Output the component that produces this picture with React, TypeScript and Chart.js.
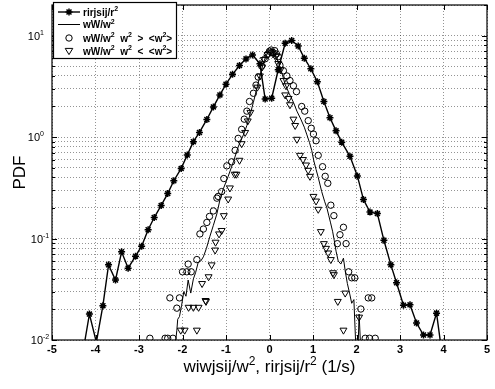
import { useEffect, useRef } from 'react';
import { Chart, registerables } from 'chart.js';

Chart.register(...registerables);

const FONT = "'Liberation Sans', Arial, Helvetica, sans-serif";

// axis ranges and tick labels
const X_MIN = -5;
const X_MAX = 5;
const Y_MIN = 0.01;
const Y_MAX = 20;
const xTicks = [-5, -4, -3, -2, -1, 0, 1, 2, 3, 4, 5];
const yDecades = [-2, -1, 0, 1];
const yMinorSteps = [2, 3, 4, 5, 6, 7, 8, 9];

// rirjsij/r^2  (stars joined by a line)
const rrX = [-4.25, -4.14, -3.98, -3.83, -3.70, -3.54, -3.40, -3.25, -3.08, -2.94, -2.79, -2.65, -2.49, -2.34, -2.20, -2.03, -1.89, -1.75, -1.61, -1.44, -1.29, -1.14, -1.00, -0.85, -0.69, -0.54, -0.39, -0.22, -0.10, 0.05, 0.20, 0.36, 0.51, 0.66, 0.80, 0.95, 1.10, 1.25, 1.39, 1.53, 1.66, 1.85, 2.02, 2.16, 2.31, 2.48, 2.63, 2.79, 2.92, 3.08, 3.23, 3.38, 3.54, 3.69, 3.84, 3.93];
const rrY = [0.0095, 0.018, 0.0095, 0.0218, 0.055, 0.039, 0.074, 0.051, 0.067, 0.084, 0.122, 0.161, 0.212, 0.277, 0.371, 0.491, 0.665, 0.90, 1.11, 1.49, 1.98, 2.60, 3.32, 4.15, 5.07, 5.89, 6.44, 5.27, 2.37, 2.41, 4.6, 8.4, 8.95, 7.9, 5.98, 4.71, 3.50, 2.24, 1.55, 1.15, 0.89, 0.645, 0.414, 0.242, 0.182, 0.176, 0.096, 0.055, 0.0366, 0.0220, 0.0222, 0.0147, 0.0112, 0.0112, 0.0184, 0.0095];

// wW/w^2  (solid line)
const wwX = [-2.16, -2.13, -2.11, -2.07, -2.02, -1.97, -1.92, -1.87, -1.81, -1.75, -1.70, -1.64, -1.58, -1.52, -1.45, -1.37, -1.29, -1.21, -1.14, -1.06, -0.95, -0.83, -0.72, -0.60, -0.52, -0.44, -0.37, -0.30, -0.22, -0.16, -0.09, -0.03, 0.03, 0.10, 0.16, 0.22, 0.29, 0.36, 0.45, 0.55, 0.63, 0.72, 0.80, 0.86, 0.92, 0.97, 1.02, 1.07, 1.12, 1.20, 1.27, 1.32, 1.36, 1.40, 1.45, 1.49, 1.53, 1.58, 1.64, 1.70, 1.74, 1.79, 1.84, 1.89, 1.94, 1.98, 2.04, 2.06, 2.09];
const wwY = [0.0095, 0.0125, 0.016, 0.017, 0.022, 0.030, 0.027, 0.039, 0.029, 0.040, 0.046, 0.058, 0.060, 0.066, 0.080, 0.105, 0.135, 0.175, 0.240, 0.31, 0.41, 0.57, 0.80, 1.05, 1.30, 1.70, 2.2, 2.9, 4.0, 5.0, 6.2, 6.9, 7.3, 7.0, 6.1, 5.2, 4.2, 3.3, 2.7, 2.2, 1.8, 1.5, 1.25, 1.05, 0.88, 0.74, 0.58, 0.48, 0.40, 0.29, 0.23, 0.20, 0.17, 0.145, 0.118, 0.095, 0.075, 0.060, 0.056, 0.064, 0.048, 0.036, 0.029, 0.023, 0.025, 0.0095, 0.0095, 0.018, 0.0095];

// wW/w^2, w^2 > <w^2>  (open circles)
const hiX = [-2.75, -2.40, -2.34, -2.22, -2.29, -2.07, -2.13, -2.00, -1.90, -1.80, -1.87, -1.67, -1.60, -1.52, -1.44, -1.38, -1.29, -1.21, -1.18, -1.10, -1.05, -0.98, -0.87, -0.79, -0.72, -0.64, -0.58, -0.52, -0.46, -0.37, -0.31, -0.26, -0.18, -0.10, -0.05, 0.00, 0.04, 0.08, 0.12, 0.16, 0.20, 0.24, 0.32, 0.40, 0.47, 0.55, 0.62, 0.74, 0.81, 0.89, 0.96, 1.01, 1.07, 1.12, 1.22, 1.28, 1.34, 1.41, 1.48, 1.56, 1.62, 1.70, 1.76, 1.82, 1.89, 1.96, 2.10, 2.27, 2.35, 2.20, 2.30, 2.43];
const hiY = [0.0104, 0.0104, 0.0104, 0.0104, 0.026, 0.026, 0.0206, 0.047, 0.047, 0.047, 0.056, 0.062, 0.111, 0.124, 0.144, 0.165, 0.187, 0.25, 0.26, 0.29, 0.39, 0.52, 0.57, 0.74, 0.97, 1.19, 1.5, 1.8, 2.24, 2.7, 3.25, 3.9, 5.0, 5.9, 6.5, 7.0, 7.2, 6.8, 7.1, 6.6, 6.2, 5.1, 4.5, 4.0, 3.6, 3.2, 2.8, 2.0, 1.8, 1.45, 1.22, 1.07, 0.92, 0.66, 0.51, 0.41, 0.35, 0.213, 0.168, 0.089, 0.109, 0.129, 0.089, 0.047, 0.041, 0.041, 0.0202, 0.026, 0.026, 0.0104, 0.0104, 0.0104];

// wW/w^2, w^2 < <w^2>  (downward triangles)
const loX = [-2.04, -1.95, -1.67, -1.86, -1.75, -1.63, -1.47, -1.46, -1.55, -1.40, -1.33, -1.25, -1.24, -1.16, -1.10, -1.05, -0.95, -0.91, -0.80, -0.76, -0.69, -0.64, -0.56, -0.50, -0.44, -0.28, -0.22, -0.17, -0.13, -0.04, 0.02, 0.08, 0.14, 0.20, 0.25, 0.32, 0.38, 0.36, 0.44, 0.47, 0.55, 0.59, 0.63, 0.70, 0.77, 0.84, 0.89, 0.93, 1.01, 1.07, 1.12, 1.18, 1.25, 1.30, 1.35, 1.41, 1.46, 1.48, 1.57, 1.74, 1.70, 2.06];
const loY = [0.0125, 0.0125, 0.0125, 0.021, 0.021, 0.021, 0.0245, 0.0240, 0.036, 0.042, 0.055, 0.077, 0.092, 0.111, 0.120, 0.168, 0.245, 0.315, 0.43, 0.43, 0.59, 0.86, 1.11, 1.44, 1.75, 3.1, 4.0, 4.9, 5.8, 6.5, 6.9, 6.6, 6.2, 5.3, 4.6, 3.6, 3.2, 2.6, 2.4, 2.08, 1.5, 1.3, 0.95, 0.66, 0.60, 0.53, 0.47, 0.41, 0.26, 0.234, 0.194, 0.117, 0.089, 0.080, 0.072, 0.062, 0.046, 0.044, 0.024, 0.029, 0.0125, 0.0168];

const seriesLabels = ['rirjsij/r', 'wW/w', 'wW/w  w  >  <w>', 'wW/w  w  <  <w>'];

const toPoints = (xs: number[], ys: number[]) => xs.map((x, i) => ({ x, y: ys[i] }));
const hideBelowMin = (r: number) => (c: any) => (c.raw && c.raw.y < Y_MIN ? 0 : r);

type Part = { t: string; sup?: boolean };

function drawRich(
  ctx: CanvasRenderingContext2D,
  parts: Part[],
  x: number,
  y: number,
  size: number,
  weight: string,
  align: 'left' | 'center' | 'right'
) {
  const supSize = Math.round(size * 0.68);
  const widths = parts.map((p) => {
    ctx.font = `${weight} ${p.sup ? supSize : size}px ${FONT}`;
    return ctx.measureText(p.t).width;
  });
  const total = widths.reduce((a, b) => a + b, 0);
  let cx = align === 'left' ? x : align === 'center' ? x - total / 2 : x - total;
  ctx.textAlign = 'left';
  ctx.textBaseline = 'alphabetic';
  parts.forEach((p, i) => {
    ctx.font = `${weight} ${p.sup ? supSize : size}px ${FONT}`;
    ctx.fillText(p.t, cx, p.sup ? y - size * 0.42 : y);
    cx += widths[i];
  });
}

function starMark(ctx: CanvasRenderingContext2D, x: number, y: number, r: number) {
  ctx.beginPath();
  ctx.moveTo(x - r, y);
  ctx.lineTo(x + r, y);
  ctx.moveTo(x, y - r);
  ctx.lineTo(x, y + r);
  const d = r * 0.707;
  ctx.moveTo(x - d, y - d);
  ctx.lineTo(x + d, y + d);
  ctx.moveTo(x - d, y + d);
  ctx.lineTo(x + d, y - d);
  ctx.stroke();
}

const framePlugin = {
  id: 'frameAndLabels',
  afterDraw(chart: any) {
    const { ctx, chartArea: a, scales } = chart;
    const xs = scales.x;
    const ys = scales.y;
    ctx.save();
    ctx.strokeStyle = '#000';
    ctx.fillStyle = '#000';
    ctx.setLineDash([]);

    // axes box
    ctx.lineWidth = 1.2;
    ctx.strokeRect(a.left, a.top, a.right - a.left, a.bottom - a.top);

    // inward tick marks
    ctx.lineWidth = 1;
    ctx.beginPath();
    xTicks.forEach((v) => {
      const px = Math.round(xs.getPixelForValue(v)) + 0.5;
      ctx.moveTo(px, a.bottom);
      ctx.lineTo(px, a.bottom - 5);
      ctx.moveTo(px, a.top);
      ctx.lineTo(px, a.top + 5);
    });
    yDecades.forEach((e) => {
      const py = Math.round(ys.getPixelForValue(10 ** e)) + 0.5;
      ctx.moveTo(a.left, py);
      ctx.lineTo(a.left + 5, py);
      ctx.moveTo(a.right, py);
      ctx.lineTo(a.right - 5, py);
      yMinorSteps.forEach((m) => {
        const v = m * 10 ** e;
        if (v > Y_MAX) return;
        const pm = Math.round(ys.getPixelForValue(v)) + 0.5;
        ctx.moveTo(a.left, pm);
        ctx.lineTo(a.left + 3, pm);
        ctx.moveTo(a.right, pm);
        ctx.lineTo(a.right - 3, pm);
      });
    });
    ctx.stroke();

    // y tick labels 10^n
    yDecades.forEach((e) => {
      const py = ys.getPixelForValue(10 ** e);
      const baseRight = e < 0 ? 43 : 40;
      ctx.font = `normal 11px ${FONT}`;
      const w10 = ctx.measureText('10').width;
      drawRich(ctx, [{ t: '10' }, { t: String(e), sup: true }], baseRight - w10, py + 4, 11, 'normal', 'left');
    });

    // axis titles
    drawRich(
      ctx,
      [{ t: 'wiwjsij/w' }, { t: '2', sup: true }, { t: ', rirjsij/r' }, { t: '2', sup: true }, { t: ' (1/s)' }],
      (a.left + a.right) / 2,
      372,
      17,
      'normal',
      'center'
    );
    ctx.save();
    ctx.translate(25, (a.top + a.bottom) / 2);
    ctx.rotate(-Math.PI / 2);
    ctx.font = `normal 17px ${FONT}`;
    ctx.textAlign = 'center';
    ctx.textBaseline = 'alphabetic';
    ctx.fillText('PDF', 0, 0);
    ctx.restore();

    // legend
    const bx = a.left + 1.5;
    const by = 2.5;
    const bw = 123;
    const bh = 56;
    ctx.fillStyle = '#fff';
    ctx.fillRect(bx, by, bw, bh);
    ctx.strokeStyle = '#000';
    ctx.lineWidth = 1.2;
    ctx.strokeRect(bx, by, bw, bh);
    ctx.fillStyle = '#000';
    const rows = [12, 24.5, 38, 51];
    const mx = 69;
    // row 1: star line
    ctx.lineWidth = 1.4;
    ctx.beginPath();
    ctx.moveTo(58, rows[0]);
    ctx.lineTo(80, rows[0]);
    ctx.stroke();
    ctx.lineWidth = 1.5;
    starMark(ctx, mx, rows[0], 3.5);
    // row 2: plain line
    ctx.lineWidth = 1;
    ctx.beginPath();
    ctx.moveTo(58, rows[1]);
    ctx.lineTo(80, rows[1]);
    ctx.stroke();
    // row 3: circle
    ctx.beginPath();
    ctx.arc(mx, rows[2], 3.2, 0, Math.PI * 2);
    ctx.stroke();
    // row 4: downward triangle
    ctx.beginPath();
    ctx.moveTo(mx - 3.8, rows[3] - 2.6);
    ctx.lineTo(mx + 3.8, rows[3] - 2.6);
    ctx.lineTo(mx, rows[3] + 3.6);
    ctx.closePath();
    ctx.stroke();

    const tx = 83;
    const fs = 10;
    drawRich(ctx, [{ t: 'rirjsij/r' }, { t: '2', sup: true }], tx, rows[0] + 3.5, fs, 'bold', 'left');
    drawRich(ctx, [{ t: 'wW/w' }, { t: '2', sup: true }], tx, rows[1] + 3.5, fs, 'bold', 'left');
    drawRich(
      ctx,
      [{ t: 'wW/w' }, { t: '2', sup: true }, { t: '  w' }, { t: '2', sup: true }, { t: '  >  <w' }, { t: '2', sup: true }, { t: '>' }],
      tx,
      rows[2] + 3.5,
      fs,
      'bold',
      'left'
    );
    drawRich(
      ctx,
      [{ t: 'wW/w' }, { t: '2', sup: true }, { t: '  w' }, { t: '2', sup: true }, { t: '  <  <w' }, { t: '2', sup: true }, { t: '>' }],
      tx,
      rows[3] + 3.5,
      fs,
      'bold',
      'left'
    );
    ctx.restore();
  },
};

export default function App() {
  const canvasRef = useRef<HTMLCanvasElement | null>(null);

  useEffect(() => {
    document.body.style.margin = '0';
    const canvas = canvasRef.current;
    if (!canvas) return;

    const gridColor = 'rgba(0,0,0,0.42)';

    const chart = new Chart(canvas, {
      type: 'scatter',
      data: {
        datasets: [
          {
            label: seriesLabels[0],
            data: toPoints(rrX, rrY),
            showLine: true,
            borderColor: '#000',
            backgroundColor: '#000',
            borderWidth: 1.4,
            pointStyle: 'star',
            pointRadius: hideBelowMin(3.5),
            pointBorderWidth: 1.5,
            pointBorderColor: '#000',
          },
          {
            label: seriesLabels[1],
            data: toPoints(wwX, wwY),
            showLine: true,
            borderColor: '#000',
            borderWidth: 1,
            pointRadius: 0,
          },
          {
            label: seriesLabels[2],
            data: toPoints(hiX, hiY),
            showLine: false,
            pointStyle: 'circle',
            pointRadius: 3.2,
            pointBorderWidth: 1,
            pointBorderColor: '#000',
            pointBackgroundColor: 'rgba(0,0,0,0)',
          },
          {
            label: seriesLabels[3],
            data: toPoints(loX, loY),
            showLine: false,
            pointStyle: 'triangle',
            rotation: 180,
            pointRadius: 4,
            pointBorderWidth: 1,
            pointBorderColor: '#000',
            pointBackgroundColor: 'rgba(0,0,0,0)',
          },
        ],
      },
      options: {
        animation: false,
        responsive: false,
        devicePixelRatio: 1,
        layout: { padding: { left: 0, right: 8, top: 0, bottom: 0 } },
        plugins: {
          legend: { display: false },
          tooltip: { enabled: false },
        },
        scales: {
          x: {
            type: 'linear',
            min: X_MIN,
            max: X_MAX,
            afterFit: (s: any) => {
              s.height = 49;
            },
            afterBuildTicks: (s: any) => {
              s.ticks = xTicks.map((v) => ({ value: v }));
            },
            ticks: {
              color: '#000',
              padding: 3,
              font: { family: FONT, size: 11, weight: 'bold' },
              callback: (v: any) => String(v),
            },
            grid: { color: gridColor, lineWidth: 1, drawTicks: false },
            border: { display: false, dash: [1, 2] },
          },
          y: {
            type: 'logarithmic',
            min: Y_MIN,
            max: Y_MAX,
            afterFit: (s: any) => {
              s.width = 52;
            },
            afterBuildTicks: (s: any) => {
              const t: { value: number }[] = [];
              yDecades.forEach((e) => {
                t.push({ value: 10 ** e });
                yMinorSteps.forEach((m) => {
                  const v = m * 10 ** e;
                  if (v <= Y_MAX) t.push({ value: v });
                });
              });
              s.ticks = t;
            },
            ticks: { display: false },
            grid: { color: gridColor, lineWidth: 1, drawTicks: false },
            border: { display: false, dash: [1, 2] },
          },
        },
      },
      plugins: [framePlugin],
    });

    return () => chart.destroy();
  }, []);

  return (
    <div style={{ width: 495, height: 389, position: 'relative', background: '#fff' }}>
      <canvas ref={canvasRef} width={495} height={389} />
    </div>
  );
}
